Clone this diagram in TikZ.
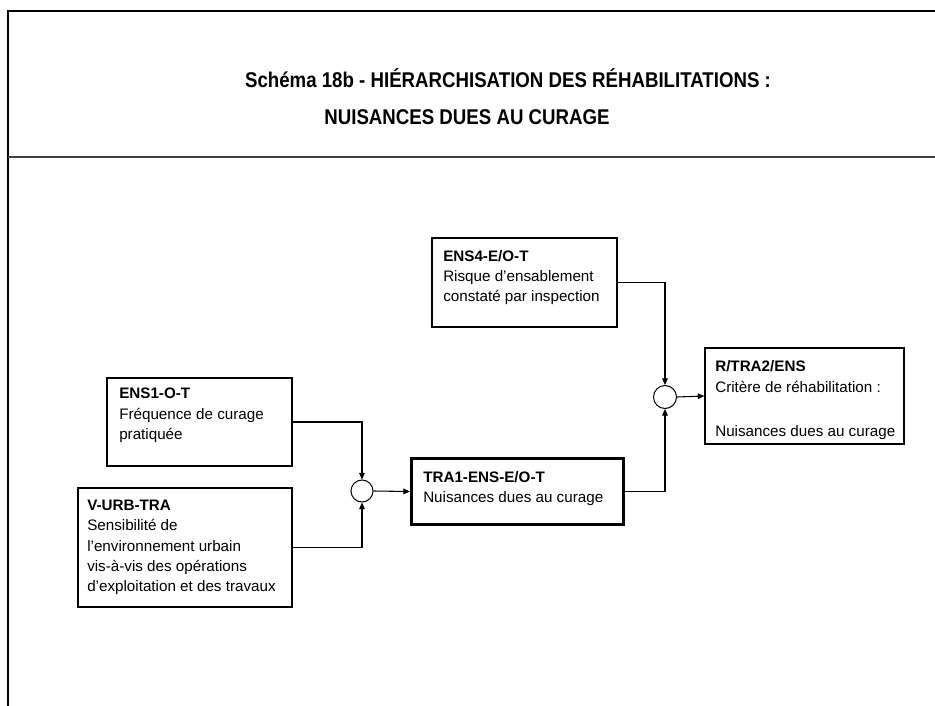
\documentclass[tikz,border=0pt]{standalone}
\usepackage{fontspec}
\setmainfont{Liberation Sans}
\usetikzlibrary{arrows.meta}
\begin{document}
\begin{tikzpicture}[x=0.75pt,y=-0.75pt,
  box/.style={draw=black,line width=0.8pt,inner sep=0pt,rectangle},
  thickbox/.style={draw=black,line width=2.2pt,inner sep=0pt,rectangle},
  txt/.style={anchor=north west,inner sep=0pt,align=left,font=\fontsize{11.4pt}{15.2pt}\selectfont},
  sumnode/.style={draw=black,line width=0.75pt,circle,inner sep=0pt},
  conn/.style={line width=0.8pt,-{Triangle[length=5pt,width=4.2pt]}},
  titlef/.style={font=\fontsize{16pt}{18pt}\selectfont\bfseries,inner sep=0pt,xscale=0.875}
]
\useasboundingbox (0,0) rectangle (935,706);
\fill[white] (0,0) rectangle (935,706);
% frame
\draw[line width=1.6pt] (8,706) -- (8,11) -- (935,11);
\draw[line width=0.9pt,draw=black!75] (8,157) -- (935,157);
% titles
\node[titlef] (title1) at (508,78) {Schéma 18b - HIÉRARCHISATION DES RÉHABILITATIONS :};
\node[titlef] (title2) at (467,117) {NUISANCES DUES AU CURAGE};
% boxes
\node[box,minimum width=185*0.75pt,minimum height=89*0.75pt] (ens4) at (524.5,282.5) {};
\node[box,minimum width=185*0.75pt,minimum height=88*0.75pt] (ens1) at (199.5,422) {};
\node[box,minimum width=214*0.75pt,minimum height=119*0.75pt] (vurb) at (185,547.5) {};
\node[thickbox,minimum width=212*0.75pt,minimum height=66*0.75pt] (tra1) at (517.5,491.5) {};
\node[box,minimum width=199*0.75pt,minimum height=96*0.75pt] (rtra) at (804.5,396) {};
% texts
\node[txt] (tens4) at (443,250) {\textbf{ENS4-E/O-T}\\Risque d’ensablement\\constaté par inspection};
\node[txt] (tens1) at (119,388) {\textbf{ENS1-O-T}\\Fréquence de curage\\pratiquée};
\node[txt] (tvurb) at (87,500) {\textbf{V-URB-TRA}\\Sensibilité de\\l’environnement urbain\\vis-à-vis des opérations\\d’exploitation et des travaux};
\node[txt] (ttra1) at (423,471) {\textbf{TRA1-ENS-E/O-T}\\Nuisances dues au curage};
\node[txt,font=\fontsize{11.4pt}{16pt}\selectfont] (trtra) at (715,360) {\textbf{R/TRA2/ENS}\\Critère de réhabilitation :\\[1pt]\\Nuisances dues au curage};
% junctions
\node[sumnode,minimum size=22*0.75pt] (c1) at (362,491) {};
\node[sumnode,minimum size=23*0.75pt] (c2) at (665,397) {};
% connectors
\draw[conn] (ens1.east) -| (c1.north);
\draw[conn] (vurb.east) -| (c1.south);
\draw[conn] (c1.east) -- (tra1.west);
\draw[conn] (tra1.east) -| (c2.south);
\draw[conn] (ens4.east) -| (c2.north);
\draw[conn] (c2.east) -- (rtra.west);
\end{tikzpicture}
\end{document}
